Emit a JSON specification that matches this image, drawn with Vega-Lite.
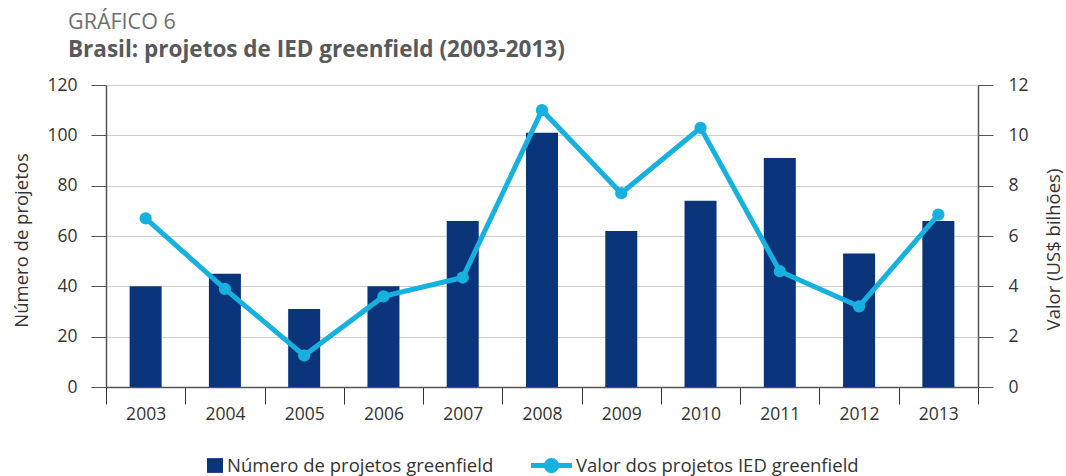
{
  "$schema": "https://vega.github.io/schema/vega-lite/v6.json",
  "width": 872,
  "height": 302,
  "autosize": {"type": "none"},
  "padding": {"left": 106, "top": 85, "right": 88, "bottom": 89},
  "background": "white",
  "config": {
    "font": "Open Sans",
    "view": {"stroke": null},
    "axis": {"labelFont": "Open Sans", "titleFont": "Open Sans"},
    "legend": {"labelFont": "Open Sans"},
    "title": {"font": "Open Sans", "subtitleFont": "Open Sans"}
  },
  "title": {
    "text": "GRÁFICO 6",
    "subtitle": "Brasil: projetos de IED greenfield (2003-2013)",
    "anchor": "start",
    "frame": "group",
    "dx": -38,
    "offset": 15,
    "fontSize": 21.5,
    "fontWeight": "normal",
    "color": "#6d6e70",
    "subtitleFontSize": 22.5,
    "subtitleFontWeight": "bold",
    "subtitleColor": "#58595b",
    "subtitlePadding": 5
  },
  "data": {
    "values": [
      {"ano": "2003", "projetos": 40, "valor": 6.7},
      {"ano": "2004", "projetos": 45, "valor": 3.9},
      {"ano": "2005", "projetos": 31, "valor": 1.25},
      {"ano": "2006", "projetos": 40, "valor": 3.6},
      {"ano": "2007", "projetos": 66, "valor": 4.35},
      {"ano": "2008", "projetos": 101, "valor": 11.0},
      {"ano": "2009", "projetos": 62, "valor": 7.7},
      {"ano": "2010", "projetos": 74, "valor": 10.3},
      {"ano": "2011", "projetos": 91, "valor": 4.6},
      {"ano": "2012", "projetos": 53, "valor": 3.2},
      {"ano": "2013", "projetos": 66, "valor": 6.85}
    ]
  },
  "encoding": {
    "x": {
      "field": "ano",
      "type": "ordinal",
      "scale": {"paddingInner": 0, "paddingOuter": 0},
      "axis": {
        "title": null,
        "labelAngle": 0,
        "tickBand": "extent",
        "tickSize": 17,
        "labelPadding": 1,
        "labelFontSize": 17.5,
        "labelColor": "#333333",
        "domainColor": "#555555",
        "tickColor": "#333333",
        "domainWidth": 1.5,
        "grid": false
      }
    }
  },
  "layer": [
    {
      "mark": {"type": "bar", "size": 32},
      "encoding": {
        "y": {
          "field": "projetos",
          "type": "quantitative",
          "scale": {"domain": [0, 120], "nice": false},
          "axis": {
            "title": "Número de projetos",
            "values": [0, 20, 40, 60, 80, 100, 120],
            "tickSize": 15,
            "labelPadding": 14,
            "labelFontSize": 17.5,
            "labelColor": "#333333",
            "grid": true,
            "gridColor": "#d0d0d0",
            "gridWidth": 1.2,
            "domainColor": "#555555",
            "domainWidth": 1.5,
            "tickColor": "#555555",
            "titleFontSize": 18.5,
            "titleFontWeight": "normal",
            "titleColor": "#333333",
            "titlePadding": 15,
            "titleY": 155
          }
        },
        "color": {
          "datum": "Número de projetos greenfield",
          "type": "nominal",
          "scale": {
            "domain": ["Número de projetos greenfield", "Valor dos projetos IED greenfield"],
            "range": ["#0b357b", "#16b1de"]
          },
          "legend": {
            "title": null,
            "orient": "none",
            "legendX": 76,
            "legendY": 360,
            "direction": "horizontal",
            "padding": 0,
            "symbolSize": 1681,
            "labelFontSize": 18.5,
            "labelColor": "#333333",
            "labelLimit": 400,
            "labelOffset": 4,
            "columnPadding": 37,
            "encode": {
              "symbols": {
                "update": {
                  "shape": {"signal": "datum.value === 'Número de projetos greenfield' ? 'M0.22,-0.36H1V0.36H0.22Z' : 'M-1,-0.12H1V0.12H-1Z M-0.37,0A0.37,0.37 0 1,1 0.37,0A0.37,0.37 0 1,1 -0.37,0Z'"},
                  "size": {"value": 1681},
                  "fill": {"signal": "scale('color', datum.value)"},
                  "fillOpacity": {"value": 1},
                  "opacity": {"value": 1},
                  "strokeWidth": {"value": 0}
                }
              }
            }
          }
        }
      }
    },
    {
      "encoding": {
        "y": {
          "field": "valor",
          "type": "quantitative",
          "scale": {"domain": [0, 12], "nice": false},
          "axis": {
            "orient": "right",
            "title": "Valor (US$ bilhões)",
            "values": [0, 2, 4, 6, 8, 10, 12],
            "tickSize": 15,
            "labelPadding": 15,
            "labelFontSize": 17.5,
            "labelColor": "#333333",
            "grid": false,
            "domainColor": "#555555",
            "domainWidth": 1.5,
            "tickColor": "#555555",
            "titleFontSize": 18.5,
            "titleFontWeight": "normal",
            "titleColor": "#333333",
            "titleAngle": 270,
            "titlePadding": 35,
            "titleY": 164
          }
        },
        "color": {"datum": "Valor dos projetos IED greenfield", "type": "nominal"}
      },
      "layer": [
        {"mark": {"type": "line", "strokeWidth": 5}},
        {"mark": {"type": "point", "filled": true, "size": 150, "opacity": 1}}
      ]
    }
  ],
  "resolve": {"scale": {"y": "independent"}}
}
